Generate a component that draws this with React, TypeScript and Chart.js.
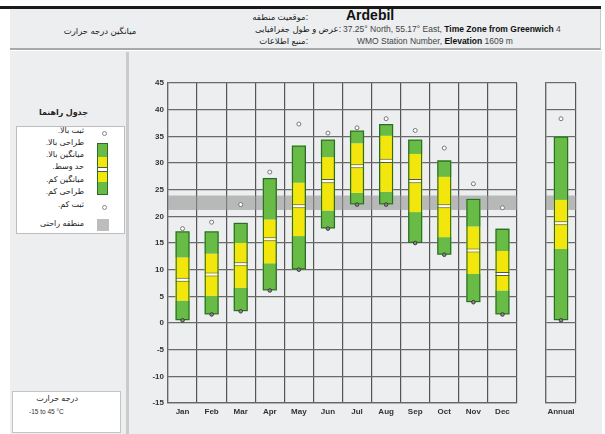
import React, { useEffect, useRef } from "react";
import { Chart, registerables } from "chart.js";
Chart.register(...registerables);

const months = ["Jan", "Feb", "Mar", "Apr", "May", "Jun", "Jul", "Aug", "Sep", "Oct", "Nov", "Dec"];
const recordHigh = [17.7, 18.9, 22.2, 28.3, 37.3, 35.6, 36.6, 38.3, 36.1, 32.8, 26.1, 21.6];
const designHigh = [17.2, 17.2, 18.8, 27.2, 33.3, 34.4, 36.1, 37.3, 34.4, 30.5, 23.3, 17.7];
const meanHigh = [12.3, 13.0, 15.0, 19.4, 26.3, 31.1, 33.7, 35.1, 31.7, 27.4, 18.1, 13.5];
const median = [8.1, 9.1, 11.0, 15.7, 21.9, 26.6, 29.4, 30.4, 26.6, 21.9, 13.6, 9.2];
const meanLow = [4.2, 5.1, 6.6, 11.2, 16.3, 21.1, 24.4, 24.6, 20.8, 16.1, 9.2, 6.1];
const designLow = [0.5, 1.6, 2.2, 6.1, 10.0, 17.7, 22.2, 22.2, 15.0, 12.8, 3.9, 1.6];
const recordLow = [0.5, 1.6, 2.2, 6.1, 10.0, 17.7, 22.2, 22.2, 15.0, 12.8, 3.9, 1.6];

const annualLabels = ["Annual"];
const annualRecordHigh = [38.3];
const annualDesignHigh = [35.0];
const annualMeanHigh = [23.1];
const annualMedian = [18.7];
const annualMeanLow = [13.9];
const annualDesignLow = [0.5];
const annualRecordLow = [0.5];

const comfortZone = [21.2, 23.9];
const yTicks = { min: -15, max: 45, step: 5 };

const GREEN = "rgb(104,188,70)";
const YELLOW = "rgb(242,230,12)";
const OUTLINE = "#2f6a2c";
const FONT = "'Liberation Sans', Arial, 'DejaVu Sans', sans-serif";

const comfortPlugin = {
  id: "comfort",
  beforeDatasetsDraw(chart: any) {
    const { ctx, chartArea, scales } = chart;
    const y1 = scales.y.getPixelForValue(comfortZone[1]);
    const y0 = scales.y.getPixelForValue(comfortZone[0]);
    ctx.save();
    ctx.fillStyle = "rgba(150,150,150,0.62)";
    ctx.fillRect(chartArea.left, y1, chartArea.right - chartArea.left, y0 - y1);
    ctx.restore();
  },
};

function buildConfig(labels: string[], rh: number[], dh: number[], mh: number[], md: number[], ml: number[], dl: number[], rl: number[], showY: boolean, padding: any, barPct: number) {
  const pair = (a: number[], b: number[]) => a.map((v, i) => [v, b[i]]);
  const barCommon = { grouped: false, barPercentage: barPct, categoryPercentage: 1, borderSkipped: false };
  return {
    type: "bar",
    data: {
      labels,
      datasets: [
        { type: "line", data: rh, showLine: false, pointRadius: 2, pointBorderWidth: 1, pointBackgroundColor: "#fff", pointBorderColor: "#777", order: 0 },
        { type: "line", data: rl, showLine: false, pointRadius: 1.8, pointBorderWidth: 1, pointBackgroundColor: "#888", pointBorderColor: "#3a3a3a", order: 0 },
        { ...barCommon, data: pair(dl, dh), backgroundColor: "rgba(0,0,0,0)", borderColor: OUTLINE, borderWidth: 1.3, order: 1 },
        { ...barCommon, data: md.map((v) => [v - 0.38, v + 0.38]), backgroundColor: "#fff", borderColor: "#555", borderWidth: { top: 1, bottom: 1, left: 0, right: 0 }, order: 2 },
        { ...barCommon, data: pair(mh, dh), backgroundColor: GREEN, borderWidth: 0, order: 3 },
        { ...barCommon, data: pair(ml, mh), backgroundColor: YELLOW, borderWidth: 0, order: 4 },
        { ...barCommon, data: pair(dl, ml), backgroundColor: GREEN, borderWidth: 0, order: 5 },
      ],
    },
    options: {
      responsive: false,
      animation: false,
      devicePixelRatio: 1,
      layout: { padding },
      plugins: { legend: { display: false }, tooltip: { enabled: false } },
      scales: {
        x: {
          type: "category",
          offset: true,
          grid: { offset: true, color: "#555", lineWidth: 1.2, drawTicks: false },
          border: { color: "#666", width: 1.2 },
          ticks: { color: "#333", font: { family: FONT, size: 8, weight: "bold" }, padding: 4 },
          afterFit: (s: any) => { s.height = 22; },
        },
        y: {
          min: yTicks.min,
          max: yTicks.max,
          grid: { color: "#6a6a6a", lineWidth: 1.2, drawTicks: false },
          border: { color: "#666", width: 1.2 },
          ticks: { display: showY, stepSize: yTicks.step, color: "#333", font: { family: FONT, size: 8, weight: "bold" }, padding: 4 },
          afterFit: (s: any) => { s.width = showY ? 38 : 0; },
        },
      },
    },
    plugins: [comfortPlugin],
  };
}

function ChartCanvas({ config, left, top, width, height }: any) {
  const ref = useRef<HTMLCanvasElement>(null);
  useEffect(() => {
    const c = new Chart(ref.current as any, config as any);
    return () => c.destroy();
  }, []);
  return <canvas ref={ref} width={width} height={height} style={{ position: "absolute", left, top, width, height }} />;
}

const abs = (s: any) => ({ position: "absolute", whiteSpace: "nowrap", fontFamily: FONT, ...s });

const legendItems = ["ثبت بالا.", "طراحی بالا.", "میانگین بالا.", "حد وسط.", "میانگین کم.", "طراحی کم.", "ثبت کم."];
const legendYs = [131, 143, 155, 167, 180, 192, 205];

export default function App() {
  const mainCfg = buildConfig(months, recordHigh, designHigh, meanHigh, median, meanLow, designLow, recordLow, true, { top: 13, right: 8, left: 0, bottom: 0 }, 0.49);
  const annCfg = buildConfig(annualLabels, annualRecordHigh, annualDesignHigh, annualMeanHigh, annualMedian, annualMeanLow, annualDesignLow, annualRecordLow, false, { top: 13, right: 9, left: 16, bottom: 0 }, 0.485);
  return (
    <div style={{ position: "fixed", left: 0, top: 0, width: 605, height: 434, background: "#fff", overflow: "hidden" }}>
      <div style={abs({ left: 0, top: 6, width: 601, height: 2.5, background: "#1a1a1a" })} />
      <div style={abs({ left: 10, top: 9, width: 590, height: 39, background: "#eceef0", borderBottom: "2px solid #a9a9a9", borderRight: "1px solid #c8c8c8" })} />
      <div style={abs({ left: 10, top: 51, width: 592, height: 383, background: "#eceef0" })} />
      <div style={abs({ left: 126, top: 52, width: 3, height: 382, background: "#c9cbcd" })} />

      <div style={abs({ left: 50, top: 26, width: 100, textAlign: "center", fontSize: 8.5, color: "#222", direction: "rtl" })}>میانگین درجه حرارت</div>
      <div style={abs({ right: 605 - 308, top: 12, fontSize: 8.5, color: "#222", direction: "rtl" })}>:موقعیت منطقه</div>
      <div style={abs({ left: 346, top: 7, fontSize: 14, fontWeight: "bold", color: "#111" })}>Ardebil</div>
      <div style={abs({ right: 605 - 341, top: 24, fontSize: 8.5, color: "#222", direction: "rtl" })}>:عرض و طول جغرافیایی</div>
      <div style={abs({ left: 343, top: 24, fontSize: 8.5, color: "#444" })}>37.25° North, 55.17° East, <b style={{ color: "#111" }}>Time Zone from Greenwich</b> 4</div>
      <div style={abs({ right: 605 - 308, top: 36, fontSize: 8.5, color: "#222", direction: "rtl" })}>:منبع اطلاعات</div>
      <div style={abs({ left: 357, top: 36, fontSize: 8.5, color: "#444" })}>WMO Station Number, <b style={{ color: "#111" }}>Elevation</b> 1609 m</div>

      <div style={abs({ right: 605 - 88, top: 108, fontSize: 8, fontWeight: "bold", color: "#222", direction: "rtl" })}>جدول راهنما</div>
      <div style={abs({ left: 16, top: 126, width: 107, height: 106, background: "#fff", border: "1px solid #bdbdbd" })} />
      {legendItems.map((t, i) => (
        <div key={t} style={abs({ right: 605 - 84, top: legendYs[i] - 5, fontSize: 8, color: "#222", direction: "rtl" })}>{t}</div>
      ))}
      <div style={abs({ left: 101.5, top: 130.5, width: 3, height: 3, borderRadius: 3, border: "1px solid #888", background: "#fff" })} />
      <div style={abs({ left: 101.5, top: 204.5, width: 3, height: 3, borderRadius: 3, border: "1px solid #888", background: "#fff" })} />
      <div style={abs({ left: 97, top: 143, width: 11, height: 52, border: "1px solid " + OUTLINE, boxSizing: "border-box", overflow: "hidden", background: GREEN })}>
        <div style={abs({ left: 0, top: 13, width: 11, height: 25, background: YELLOW })} />
        <div style={abs({ left: 0, top: 23, width: 11, height: 3, background: "#fff", borderTop: "1px solid #555", borderBottom: "1px solid #555" })} />
      </div>
      <div style={abs({ right: 605 - 84, top: 219, fontSize: 8, color: "#222", direction: "rtl" })}>منطقه راحتی</div>
      <div style={abs({ left: 97, top: 219, width: 12, height: 12, background: "#bdbdbd" })} />

      <div style={abs({ left: 12, top: 391, width: 107, height: 40, background: "#fff", border: "1px solid #c4c4c4" })} />
      <div style={abs({ right: 605 - 78, top: 394, fontSize: 8, color: "#222", direction: "rtl" })}>درجه حرارت</div>
      <div style={abs({ left: 29, top: 408, fontSize: 6.5, color: "#333" })}>-15 to 45 °C</div>

      <ChartCanvas config={mainCfg} left={130} top={70} width={395} height={355} />
      <ChartCanvas config={annCfg} left={530} top={70} width={55} height={355} />
    </div>
  );
}
